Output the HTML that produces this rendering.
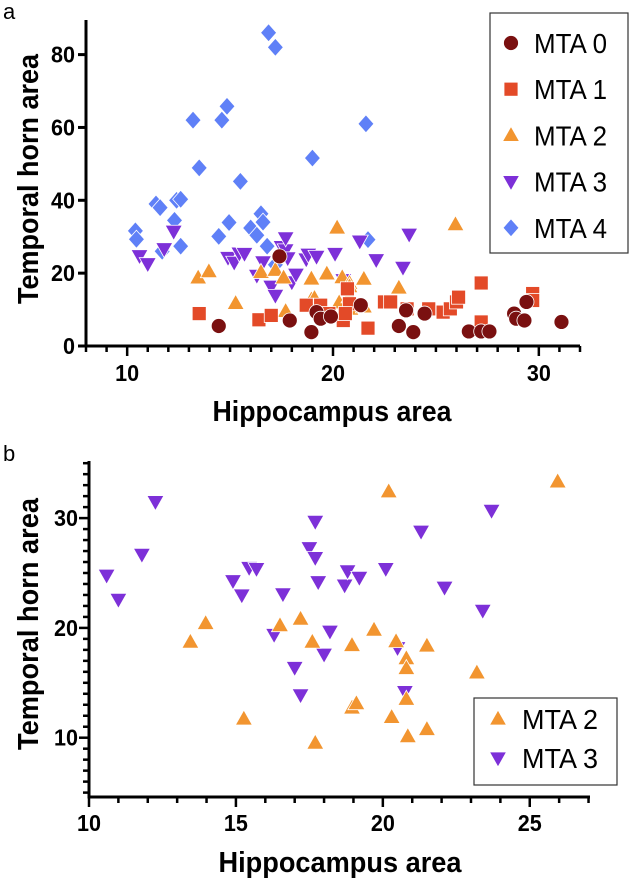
<!DOCTYPE html>
<html><head><meta charset="utf-8"><style>
html,body{margin:0;padding:0;background:#fff;}
svg{display:block;font-family:"Liberation Sans",Arial,sans-serif;}
</style></head><body>
<svg id="chart" width="632" height="882" viewBox="0 0 632 882" xmlns="http://www.w3.org/2000/svg">
<text x="3" y="19" font-size="22">a</text>
<text x="3" y="461" font-size="22">b</text>
<g id="pa"></g>
<g id="pb"></g>
</svg>
<script>
const mta0X=[14.45,17.9,17.4,18.95,19.2,19.4,19.9,21.35,23.2,23.55,23.9,24.45,26.6,27.2,27.6,28.8,28.9,29.3,29.4,31.1];
const mta0Y=[5.5,7.0,24.6,3.8,9.3,7.5,8.1,11.2,5.5,9.8,3.8,8.9,4.0,4.0,4.0,8.9,7.5,7.0,12.1,6.6];
const mta1X=[13.5,16.4,17.0,18.7,19.4,19.8,20.5,20.7,20.8,21.7,22.5,22.8,23.6,24.65,25.35,25.7,26.0,26.1,27.2,27.2,29.7,29.7,20.6];
const mta1Y=[8.9,7.2,8.4,11.2,11.2,8.9,7.0,15.7,11.6,4.9,12.1,12.1,10.2,10.2,9.3,10.2,12.1,13.4,17.3,6.6,14.4,12.5,8.9];
const mta2X=[13.45,13.97,15.27,16.5,17.2,17.6,17.7,18.95,18.95,19.1,19.7,20.2,20.3,20.45,20.8,20.8,20.8,20.85,21.5,21.5,23.2,25.95];
const mta2Y=[18.7,20.4,11.7,20.2,20.8,18.7,9.5,18.4,12.7,13.1,19.8,32.4,11.85,18.75,17.2,16.3,13.5,10.1,18.35,10.75,15.9,33.3];
const mta3X=[10.6,11.0,11.8,12.26,14.9,15.2,15.45,15.7,16.3,16.6,17.0,17.2,17.5,17.7,17.7,17.8,18.0,18.2,18.7,18.8,19.2,20.1,20.5,20.75,21.3,22.1,23.4,23.7];
const mta3Y=[24.8,22.6,26.7,31.5,24.3,23.0,25.5,25.4,19.4,23.1,16.4,13.9,27.3,26.4,29.7,24.2,17.6,19.7,23.9,25.2,24.6,25.4,18.2,14.2,28.8,23.7,21.6,30.7];
const mta4X=[16.87,17.2,13.2,14.6,14.85,21.6,19.0,13.5,15.5,11.4,11.6,12.4,12.6,10.4,10.45,12.3,12.6,11.7,14.45,14.95,16.0,16.5,16.6,16.3,16.8,21.7,17.2];
const mta4Y=[86,82,62,62,65.8,61,51.6,48.9,45.2,39,38,40,40.3,31.6,29.3,34.5,27.4,26,30.1,33.9,32.4,36.3,34,30.4,27.4,29.2,22.3];
const aXTicks=[10,20,30];
const aYTicks=[0,20,40,60,80];
const bXTicks=[10,15,20,25];
const bYTicks=[10,20,30];
const legendA=["MTA 0","MTA 1","MTA 2","MTA 3","MTA 4"];
const legendB=["MTA 2","MTA 3"];

const NS="http://www.w3.org/2000/svg";
const COL={c0:"#7a1010",c1:"#e34a28",c2:"#f29530",c3:"#7d30d8",c4:"#5f80f7"};
function mk(p,tag,at){const e=document.createElementNS(NS,tag);for(const k in at)e.setAttribute(k,at[k]);p.appendChild(e);return e;}
function marker(g,shape,x,y,color,s){
  let e;
  if(shape==="circle") e=mk(g,"circle",{cx:x,cy:y,r:7.5*s});
  else if(shape==="square") e=mk(g,"rect",{x:x-7*s,y:y-7*s,width:14*s,height:14*s});
  else if(shape==="up") e=mk(g,"polygon",{points:`${x},${y-9*s} ${x-8.5*s},${y+6*s} ${x+8.5*s},${y+6*s}`});
  else if(shape==="down") e=mk(g,"polygon",{points:`${x},${y+9*s} ${x-8.5*s},${y-6*s} ${x+8.5*s},${y-6*s}`});
  else e=mk(g,"polygon",{points:`${x},${y-9*s} ${x+8*s},${y} ${x},${y+9*s} ${x-8*s},${y}`});
  e.setAttribute("fill",color);e.setAttribute("stroke","#fff");e.setAttribute("stroke-width","0.8");
  return e;
}
function panel(g,cfg){
  const sx=v=>cfg.x0+(v-cfg.xmin)*(cfg.x1-cfg.x0)/(cfg.xmax-cfg.xmin);
  const sy=v=>cfg.y0-(v-cfg.ymin)*(cfg.y0-cfg.y1)/(cfg.ymax-cfg.ymin);
  const ax=mk(g,"g",{});
  
  
  mk(ax,"line",{x1:cfg.x0,y1:cfg.y0,x2:cfg.x1,y2:cfg.y0,stroke:"#000","stroke-width":3});
  for(let v=Math.ceil(cfg.xmin);v<=cfg.xmax;v++){
    const maj=cfg.xt.includes(v);
    mk(ax,"line",{x1:sx(v),y1:cfg.y0,x2:sx(v),y2:cfg.y0+(maj?10:6),stroke:"#000","stroke-width":2.5});
  }
  cfg.xt.forEach(v=>{const t=mk(ax,"text",{x:sx(v),y:cfg.xtly,"text-anchor":"middle","font-size":23,"font-weight":"bold",textLength:String(v).length*12,lengthAdjust:"spacingAndGlyphs"});t.textContent=v;
    
    });
  const ay=mk(g,"g",{});
  
  
  mk(ay,"line",{x1:cfg.x0,y1:cfg.y0+1.5,x2:cfg.x0,y2:cfg.y1,stroke:"#000","stroke-width":3});
  if(cfg.yminor){for(let v=Math.ceil(cfg.ymin);v<=cfg.ymax;v++){const maj=cfg.yt.includes(v);
    mk(ay,"line",{x1:cfg.x0,y1:sy(v),x2:cfg.x0-(maj?10:6),y2:sy(v),stroke:"#000","stroke-width":2.5});}}
  cfg.yt.forEach(v=>{
    if(!cfg.yminor) mk(ay,"line",{x1:cfg.x0,y1:sy(v),x2:cfg.x0-8,y2:sy(v),stroke:"#000","stroke-width":3});
    const t=mk(ay,"text",{x:cfg.x0-11,y:sy(v)+8,"text-anchor":"end","font-size":23,"font-weight":"bold",textLength:String(v).length*12,lengthAdjust:"spacingAndGlyphs"});t.textContent=v;
    
    });
  const xl=mk(g,"text",{x:cfg.xlx,y:cfg.xly,"text-anchor":"middle","font-size":29,"font-weight":"bold",textLength:cfg.xlw,lengthAdjust:"spacingAndGlyphs"});xl.textContent="Hippocampus area";
  
  
  const yl=mk(g,"text",{x:0,y:0,"text-anchor":"middle","font-size":29,"font-weight":"bold",textLength:cfg.ylw,lengthAdjust:"spacingAndGlyphs",transform:`translate(${cfg.ylx},${cfg.yly}) rotate(-90)`});yl.textContent="Temporal horn area";
  
  
  cfg.series.forEach(s=>{
    const sg=mk(g,"g",{});
    
    
    s.xs.forEach((v,i)=>{const m=marker(sg,s.shape,sx(v),sy(s.ys[i]),s.color,cfg.ms);
      
      });
  });
  const lg=mk(g,"g",{});
  
  
  const L=cfg.legend;
  mk(lg,"rect",{x:L.x,y:L.y,width:L.w,height:L.h,fill:"#fff",stroke:"#333","stroke-width":1.2});
  L.items.forEach((it,i)=>{
    const ey=L.y+L.first+i*L.step;
    const eg=mk(lg,"g",{});
    
    
    marker(eg,it.shape,L.x+L.mx,ey,it.color,1);
    const t=mk(eg,"text",{x:L.x+L.tx,y:ey+10,"font-size":28,textLength:L.tw,lengthAdjust:"spacingAndGlyphs"});t.textContent=it.label;
  });
}
const S0={name:"mta0",shape:"circle",color:COL.c0,xs:mta0X,ys:mta0Y};
const S1={name:"mta1",shape:"square",color:COL.c1,xs:mta1X,ys:mta1Y};
const S2={name:"mta2",shape:"up",color:COL.c2,xs:mta2X,ys:mta2Y};
const S3={name:"mta3",shape:"down",color:COL.c3,xs:mta3X,ys:mta3Y};
const S4={name:"mta4",shape:"diamond",color:COL.c4,xs:mta4X,ys:mta4Y};
panel(document.getElementById("pa"),{x0:86,x1:580,xmin:8,xmax:32,y0:346,y1:20,ymin:0,ymax:89.5,xt:aXTicks,yt:aYTicks,yminor:false,ms:1,
  xtly:381,xlx:332,xly:421,xlw:239,ylx:38,yly:179,ylw:250,series:[S4,S3,S2,S1,S0],
  legend:{x:490,y:13,w:138,h:240,first:30,step:46.2,mx:21,tx:44,tw:73,items:legendA.map((l,i)=>({label:l,shape:["circle","square","up","down","diamond"][i],color:[COL.c0,COL.c1,COL.c2,COL.c3,COL.c4][i]}))}});
panel(document.getElementById("pb"),{x0:89,x1:590,xmin:10,xmax:27.05,y0:797,y1:461,ymin:4.6,ymax:35.2,xt:bXTicks,yt:bYTicks,yminor:true,ms:1,
  xtly:831,xlx:340,xly:872,xlw:243,ylx:38,yly:624,ylw:252,series:[S3,S2],
  legend:{x:474,y:698,w:143,h:87,first:21,step:39,mx:24,tx:48,tw:76,items:legendB.map((l,i)=>({label:l,shape:["up","down"][i],color:[COL.c2,COL.c3][i]}))}});
</script>
</body></html>
